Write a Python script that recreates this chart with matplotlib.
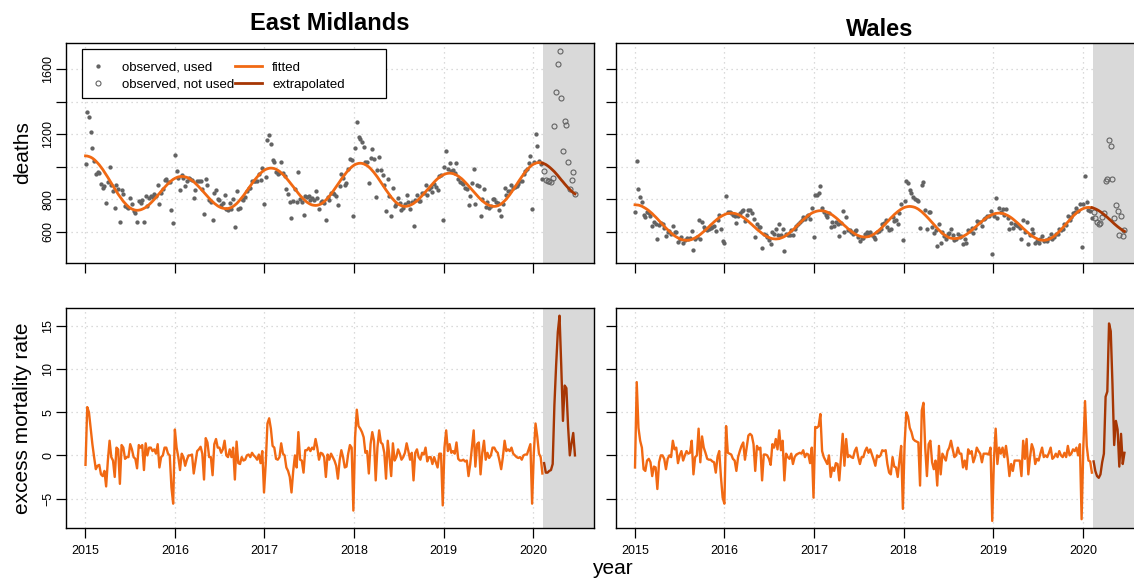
import numpy as np
import pandas as pd
import matplotlib
matplotlib.use("Agg")
import matplotlib.pyplot as plt
from matplotlib.patches import Rectangle
from matplotlib.lines import Line2D

plt.rcParams['font.family'] = ['Liberation Sans', 'DejaVu Sans']

# ---------------- data ----------------
REGIONS = ["East Midlands", "Wales"]
POPULATION = {"East Midlands": 4_800_000, "Wales": 3_150_000}
FIRST_WEEK = "2015-01-02"
LAST_USED = 266            # index of last week used for fitting
CUTOFF = 2020.112          # start of the "not used" period (decimal year)
YEAR_TICKS = [2015, 2016, 2017, 2018, 2019, 2020]
DEATH_TICKS = [600, 800, 1000, 1200, 1400, 1600]
DEATH_TICK_LABELS = ["600", "800", "", "1200", "", "1600"]
EXCESS_TICKS = [-5, 0, 5, 10, 15]

# fitted (and extrapolated) weekly deaths
em_fitted = [
    1067, 1066, 1063, 1059, 1053, 1045, 1035, 1024, 1012, 998, 984, 968, 952, 935, 917, 900,
    883, 865, 848, 832, 817, 802, 788, 776, 765, 755, 747, 741, 737, 734, 733,
    734, 736, 740, 745, 751, 759, 768, 778, 789, 800, 812, 824, 837, 850, 862, 874, 885, 896,
    906, 915, 923, 929, 934, 938, 940, 941,
    940, 938, 935, 930, 923, 916, 908, 898, 888, 877, 866, 854, 842, 830, 818, 807, 796, 786,
    776, 768, 760, 754, 749, 746, 744, 743,
    744, 747, 751, 757, 765, 774, 785, 797, 810, 823, 838, 852, 867, 882, 897, 912, 925, 938,
    950, 961, 970, 978, 984, 988, 991, 992,
    991, 989, 985, 979, 972, 963, 953, 943, 931, 918, 905, 891, 878, 864, 850, 837, 824, 813,
    802, 792, 783, 776, 770, 766, 764, 763,
    764, 767, 771, 778, 786, 796, 807, 819, 832, 847, 862, 877, 893, 908, 924, 938, 953, 966,
    978, 989, 999, 1007, 1014, 1018, 1021, 1022,
    1021, 1018, 1013, 1007, 999, 989, 977, 965, 951, 937, 921, 906, 890, 874, 858, 843, 828,
    814, 802, 790, 781, 772, 766, 761, 758, 757,
    758, 760, 764, 769, 775, 783, 791, 801, 812, 823, 835, 847, 859, 871, 883, 895, 906, 917,
    927, 935, 943, 949, 954, 958, 960, 961,
    960, 958, 954, 949, 943, 935, 927, 917, 906, 895, 883, 871, 859, 847, 835, 823, 812, 801,
    791, 783, 775, 769, 764, 760, 758, 757,
    758, 761, 766, 772, 781, 791, 802, 815, 829, 844, 859, 875, 892, 908, 924, 939, 954, 968,
    981, 992, 1002, 1011, 1017, 1022, 1025, 1026,
    1025, 1023, 1019, 1014, 1007, 999, 990, 980, 970, 958, 946, 933, 920, 908, 895, 883, 871,
    861, 850, 841, 834,
]

wales_fitted = [
    767, 766, 765, 762, 758, 752, 746, 739, 731, 722, 713, 702, 692, 681, 669, 658, 647, 635,
    624, 614, 604, 594, 585, 577, 570, 564, 558, 554, 551, 550, 549,
    550, 551, 554, 559, 564, 570, 577, 585, 594, 603, 612, 622, 632, 643, 652, 662, 671, 680,
    688, 695, 701, 706, 711, 714, 715, 716,
    715, 714, 711, 707, 702, 696, 689, 682, 673, 665, 655, 646, 636, 627, 617, 608, 600, 591,
    584, 577, 571, 566, 562, 559, 558, 557,
    558, 559, 563, 567, 572, 579, 586, 595, 604, 613, 623, 634, 644, 654, 665, 675, 684, 693,
    702, 709, 716, 721, 725, 728, 730, 731,
    730, 729, 726, 722, 717, 711, 704, 696, 688, 679, 669, 660, 650, 640, 631, 621, 612, 604,
    596, 589, 583, 578, 574, 571, 570, 569,
    570, 572, 575, 580, 586, 593, 601, 610, 619, 630, 641, 652, 663, 674, 686, 696, 707, 716,
    725, 733, 740, 746, 751, 754, 756, 757,
    756, 754, 751, 746, 740, 732, 724, 714, 704, 693, 682, 670, 658, 646, 634, 623, 612, 602,
    592, 584, 577, 570, 565, 562, 560, 559,
    560, 561, 564, 568, 573, 579, 585, 593, 601, 610, 619, 628, 638, 647, 656, 665, 674, 682,
    690, 696, 702, 707, 711, 714, 715, 716,
    715, 714, 711, 706, 701, 695, 688, 680, 671, 662, 653, 643, 633, 622, 613, 603, 594, 585,
    577, 570, 564, 559, 554, 551, 550, 549,
    550, 552, 556, 561, 567, 574, 583, 593, 603, 614, 626, 638, 650, 662, 674, 686, 697, 707,
    717, 726, 733, 739, 744, 748, 750, 751,
    750, 749, 746, 742, 737, 731, 724, 716, 708, 699, 690, 680, 671, 661, 651, 642, 633, 625,
    617, 610, 604,
]

# excess mortality rate (deaths per 100,000) per week
em_excess = [
    -1.1, 5.6, 5.0, 3.2, 1.3, -0.2, -1.6, -1.2, -1.1, -2.2,
    -2.4, -1.8, -3.6, -0.6, 1.7, -0.2, -0.6, -2.5, 0.9, 0.7,
    -3.3, 1.2, 0.9, -0.4, -0.2, -0.2, 1.3, 0.7, -0.2, -0.4,
    -1.5, 1.2, 0.9, 1.2, -1.7, 1.4, 0.0, 0.9, 0.9, 0.5,
    0.7, 0.2, 1.3, -1.4, -0.2, 0.0, 0.9, 0.9, 0.2, 0.0,
    -3.7, -5.6, 3.0, 0.9, -0.2, -1.7, 0.2, -0.2, -1.2, -0.5,
    0.0, 0.0, 0.1, -2.1, -0.8, 0.5, 0.7, 1.0, 0.2, -2.8,
    2.0, 1.5, -0.2, -0.2, -2.3, 1.3, 1.9, 0.9, 0.9, 0.3,
    0.7, 1.7, 0.0, -0.2, 0.7, -0.2, 0.9, -2.8, 1.6, -0.9,
    -1.0, -0.2, -0.6, -0.5, 0.0, 0.1, -0.2, 0.3,
    0.0, -0.2, -0.5, 0.1, -0.9, 0.5, -4.3, -1.0, 3.7, 4.3,
    3.1, 1.1, 0.9, -0.4, -0.5, -0.2, 1.4, 0.2, 0.0, -1.4,
    -1.8, -2.5, -4.3, -1.8, 0.0, -1.4, 2.7, -0.5, -0.6, -2.0,
    0.6, 0.6, 0.9, 0.5, 0.9, 0.7, 1.9, 0.9, -0.5, 0.3,
    0.2, -0.2, -2.5, 0.1, -0.5, 0.2, -0.2, -0.6, -1.2, -2.7,
    -0.6, 0.6, -0.2, -1.4, -1.3, 0.2, 1.2, 0.9, -6.4, 2.1,
    5.3, 3.4, 3.1, 2.7, 2.1, 0.3, 0.5, -2.1, 1.3, 2.7,
    1.7, -2.9, 0.9, 2.9, 1.5, 1.3, 0.3, -2.7, 1.7, -0.2,
    -2.4, 1.4, -0.6, -0.2, 0.7, 0.2, -0.5, -0.2, 0.3, 1.4,
    0.5, -0.5, 0.3, -2.9, 0.3, 0.7, -0.2, -0.5, 0.3, 0.1,
    0.9, -0.7, -0.2, -0.2, -1.0, -0.2,
    -0.8, -1.4, 0.2, 0.2, -5.8, 0.9, 2.9, 0.5, 1.3, 0.3,
    0.5, 0.2, 1.5, -0.4, -0.6, -0.6, -0.5, -0.7, -0.6, -2.4,
    -1.0, 0.9, 2.9, -1.3, 1.3, 1.5, -2.2, 0.3, 1.7, -0.5,
    0.3, -0.3, 0.0, 0.9, 0.9, 0.5, 0.3, -0.6, -1.6, -0.2,
    1.7, 0.5, 0.7, 0.5, 0.9, 0.2, 0.0, -0.2, -0.3, -0.2,
    -0.5, 0.0, 0.1, 0.1, 0.7, 1.3, -5.6, 0.3, 3.7, 2.2,
    0.2, -0.2, -2.1,
    -0.9, -2.0, -2.0, -1.8, -1.7, -1.0, 5.8, 10.4, 14.3, 16.2,
    10.4, 4.0, 8.1, 7.8, 3.3, 0.0, 1.4, 2.6, 0.0,
]

wales_excess = [
    -1.4, 8.5, 3.2, 1.7, 0.9, -1.6, -1.8, -0.6, -0.4, -0.8,
    -2.4, -1.3, -1.4, -3.9, -0.8, 0.0, 0.0, -0.4, -1.6, -0.4,
    0.0, -0.2, 1.7, 0.7, 0.9, -0.9, 0.0, 0.5, -0.6, 0.0,
    0.5, 0.2, 0.3, 1.7, -2.2, -0.2, 0.0, 3.1, -0.8, 2.2,
    0.9, 0.3, -0.4, -0.5, -0.5, -0.7, -0.8, -2.0, -0.2, 0.5,
    -2.5, -4.9, -5.6, 3.4, 0.3, 0.2, 0.1, -0.4, -0.6, -1.8,
    -0.2, 0.5, 1.1, 1.5, -0.5, 0.9, 2.3, 2.5, 2.3, 1.3,
    -1.8, 1.1, 0.7, 0.9, -2.9, 0.1, 0.1, 0.0, -0.4, -1.1,
    1.3, 0.9, 1.9, 0.7, 2.9, 0.6, 1.7, -2.9, 0.2, -0.2,
    -0.4, 0.2, -1.0, -0.2, 0.1, 0.2, 0.3,
    0.2, 0.6, -0.2, 0.2, 0.1, -0.9, 0.9, -4.9, 3.3, 3.2,
    3.4, 4.8, 0.5, -0.2, -0.6, -1.0, 0.0, -2.5, -1.4, -1.8,
    -0.9, -1.0, -2.9, -0.2, 2.5, -1.2, 1.9, -0.2, 0.0, -0.2,
    -0.3, 0.5, 0.9, -0.2, -1.0, -0.2, -0.2, 0.5, 0.9, 0.3,
    0.7, 0.1, -0.5, -1.2, 0.0, -0.2, 0.0, 0.6, 0.5, 0.6,
    -1.0, -2.0, -2.2, -0.2, -1.3, -1.4, -2.5, -0.6, 1.1, -6.2,
    1.3, 5.0, 4.5, 3.2, 2.7, 1.9, 1.7, 1.6, 1.5, -3.5,
    5.2, 6.1, 0.9, -2.4, 1.3, 1.7, -0.8, -1.6, -0.6, -3.5,
    1.1, -2.2, 0.2, -0.2, -0.6, 0.5, 0.9, 1.7, 0.7, -0.2,
    0.0, 0.9, 0.2, 0.2, -1.4, -0.6, -1.6, 0.7, 0.2, 0.5,
    -0.8, -0.2, 0.9, 0.5, 0.2, -0.8, 0.2, 0.2, 0.2, 0.1,
    0.9, -7.6, -0.4, 3.1, -1.0, 0.9, 0.2, 0.9, -0.2, 1.1,
    -0.4, -2.4, -1.0, -1.8, -0.6, -0.6, -0.6, -0.6, -2.4, 1.7,
    -0.4, 1.9, -2.2, -0.2, 1.3, 0.7, -1.0, -0.4, -0.6, 0.2,
    0.9, -0.2, 0.0, -0.2, 0.3, 0.9, -0.4, -0.2, 0.2, -0.2,
    0.5, 0.0, -0.2, 0.3, -0.2, 1.1, 0.0, 0.2, 0.7, 0.5,
    0.9, 0.0, 1.3, -7.4, 0.9, 6.3, 1.1, -0.6, -0.7, -2.0,
    -0.7, -1.8, -2.4, -2.6, -2.2, -0.8, 0.2, 6.8, 7.4, 15.3,
    14.4, 8.3, 1.2, 4.0, 3.0, -1.3, 2.5, -1.0, 0.3,
]

FITTED = {"East Midlands": em_fitted, "Wales": wales_fitted}
EXCESS = {"East Midlands": em_excess, "Wales": wales_excess}

# ---------------- styles ----------------
C_POINT = "#636363"
C_FIT = "#F16913"
C_EXTRA = "#A63603"
C_SHADE = "#D9D9D9"
C_GRID = "#CFCFCF"

W, H = 1134, 580
fig = plt.figure(figsize=(W / 100, H / 100), dpi=100)

def px_axes(x0, y0, x1, y1):
    return fig.add_axes([x0 / W, 1 - y1 / H, (x1 - x0) / W, (y1 - y0) / H])

col_x = [(66, 594), (615.5, 1143.5)]
row_y = [(42.5, 263), (307.5, 528)]
XLIM = (2014.785, 2020.677)
YLIM_TOP = (409.8, 1762.6)
YLIM_BOT = (-8.42, 17.15)

def style(ax):
    ax.set_axisbelow(True)
    ax.grid(True, color=C_GRID, linestyle=(0, (1, 3)), linewidth=0.9)
    for s in ax.spines.values():
        s.set_linewidth(1.0)
        s.set_color("black")
    ax.tick_params(direction="out", length=7, width=0.9, colors="black",
                   labelsize=9)
    ax.tick_params(axis="x", pad=5.5)
    ax.tick_params(axis="y", pad=1.5)
    ax.set_xlim(*XLIM)
    ax.set_xticks(YEAR_TICKS)
    ax.axvspan(CUTOFF, XLIM[1] + 1, color=C_SHADE, zorder=1, lw=0)

dates = pd.date_range(FIRST_WEEK, periods=len(em_fitted), freq="7D")
t = np.asarray(dates.year + (dates.dayofyear - 1) / np.where(dates.is_leap_year, 366, 365))

for c, region in enumerate(REGIONS):
    fit = np.asarray(FITTED[region], dtype=float)
    exc = np.asarray(EXCESS[region], dtype=float)
    obs = fit + exc * POPULATION[region] / 1e5
    u = LAST_USED + 1

    # top: deaths
    ax = px_axes(col_x[c][0], row_y[0][0], col_x[c][1], row_y[0][1])
    style(ax)
    ax.set_ylim(*YLIM_TOP)
    ax.set_yticks(DEATH_TICKS)
    ax.plot(t[:u], obs[:u], ls="none", marker="o", ms=3.1, color=C_POINT,
            mec="none", zorder=3)
    ax.plot(t[u:], obs[u:], ls="none", marker="o", ms=3.6, mfc="none",
            mec=C_POINT, mew=0.8, zorder=3)
    ax.plot(t[:u], fit[:u], color=C_FIT, lw=2.0, zorder=4)
    ax.plot(t[LAST_USED:], fit[LAST_USED:], color=C_EXTRA, lw=2.0, zorder=4)
    ax.tick_params(axis="x", labelbottom=False)
    if c == 0:
        ax.set_yticklabels(DEATH_TICK_LABELS)
        for lab in ax.get_yticklabels():
            lab.set_rotation(90)
            lab.set_va("center")
        handles = [
            Line2D([], [], ls="none", marker="o", ms=3.1, color=C_POINT, mec="none"),
            Line2D([], [], ls="none", marker="o", ms=3.6, mfc="none", mec=C_POINT, mew=0.8),
            Line2D([], [], color=C_FIT, lw=2.0),
            Line2D([], [], color=C_EXTRA, lw=2.0),
        ]
        labels = ["observed, used", "observed, not used", "fitted", "extrapolated"]
        ax.add_patch(Rectangle(((81.5 - 66) / 528, (263 - 97.7) / 220.5),
                               (386.4 - 81.5) / 528, (97.7 - 49) / 220.5,
                               transform=ax.transAxes, facecolor="white",
                               edgecolor="black", lw=0.9, zorder=5))
        leg = ax.legend(handles, labels, loc="upper left",
                        bbox_to_anchor=((73 - 66) / 528, (263 - 49) / 220.5),
                        bbox_transform=ax.transAxes, ncol=2, frameon=False,
                        fontsize=9.5, handlelength=2.0, handletextpad=0.8,
                        columnspacing=0.05, labelspacing=0.38, borderpad=0.93,
                        borderaxespad=0)
        leg.set_zorder(6)
    else:
        ax.tick_params(axis="y", labelleft=False)

    # bottom: excess mortality rate
    ax2 = px_axes(col_x[c][0], row_y[1][0], col_x[c][1], row_y[1][1])
    style(ax2)
    ax2.set_ylim(*YLIM_BOT)
    ax2.set_yticks(EXCESS_TICKS)
    ax2.plot(t[:u], exc[:u], color=C_FIT, lw=1.7, zorder=4)
    ax2.plot(t[u:], exc[u:], color=C_EXTRA, lw=1.7, zorder=4)
    if c == 0:
        for lab in ax2.get_yticklabels():
            lab.set_rotation(90)
            lab.set_va("center")
    else:
        ax2.tick_params(axis="y", labelleft=False)

fig.text(330 / W, 1 - 24 / H, "East Midlands", ha="center", va="center",
         fontsize=17, fontweight="bold")
fig.text(879.5 / W, 1 - 29 / H, "Wales", ha="center", va="center",
         fontsize=17, fontweight="bold")
fig.text(23 / W, 1 - 152.75 / H, "deaths", rotation=90, ha="center",
         va="center", fontsize=15)
fig.text(23 / W, 1 - 417.75 / H, "excess mortality rate", rotation=90,
         ha="center", va="center", fontsize=15)
fig.text(612 / W, 1 - 569 / H, "year", ha="center", va="center", fontsize=15)

fig.savefig("out.png", dpi=100)
